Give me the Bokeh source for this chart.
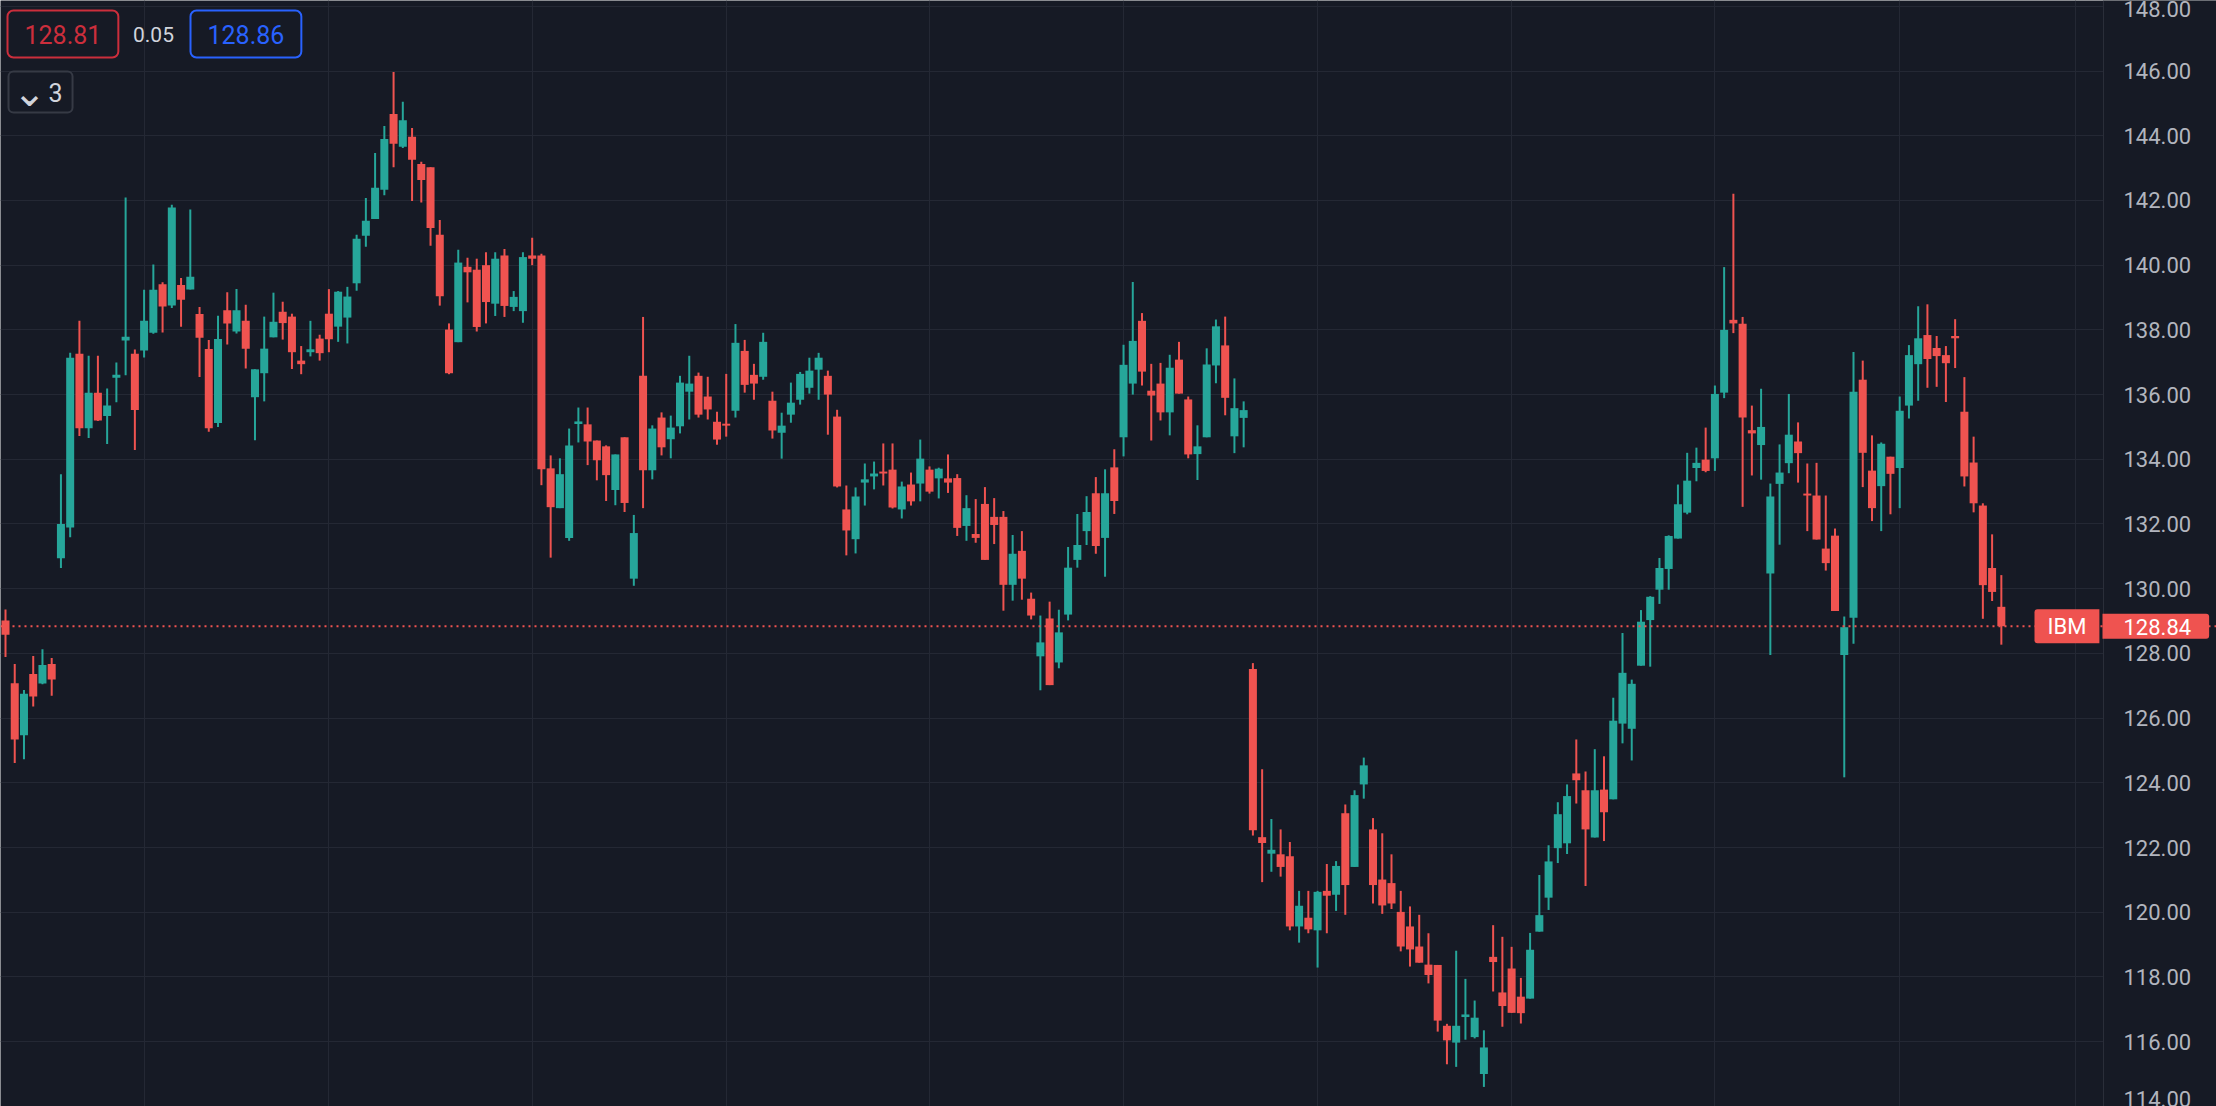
from bokeh.plotting import figure
from bokeh.models import (ColumnDataSource, FixedTicker, Label, Span, BoxAnnotation,
                          PrintfTickFormatter, Range1d)
from bokeh.embed import file_html
from bokeh.resources import INLINE

# ---------------- data (IBM daily candles) ----------------
open_ = [129.02, 127.08, 125.47, 127.36, 127.07, 127.67, 130.94, 131.89, 137.26, 134.96,
         136.06, 135.34, 136.52, 137.67, 137.26, 137.36, 137.91, 139.41, 138.75, 139.39,
         139.25, 138.49, 137.41, 135.12, 138.61, 137.95, 138.28, 135.92, 136.66, 137.77,
         138.56, 138.41, 137.05, 137.31, 137.73, 138.50, 138.10, 138.38, 139.44, 140.91,
         141.43, 142.33, 144.67, 143.66, 143.97, 143.13, 143.03, 140.94, 138.01, 137.62,
         139.95, 139.86, 140.00, 138.81, 140.30, 138.71, 138.58, 140.30, 140.30, 133.72,
         132.49, 131.57, 135.09, 135.08, 134.58, 134.40, 133.05, 134.68, 130.31, 136.58,
         133.66, 135.29, 134.62, 135.02, 136.09, 136.58, 135.94, 135.16, 135.10, 135.50,
         137.35, 136.61, 136.55, 135.81, 134.82, 135.38, 135.84, 136.21, 136.77, 136.58,
         135.32, 132.45, 131.53, 133.28, 133.47, 133.62, 133.68, 132.45, 133.22, 133.25,
         133.68, 133.41, 133.41, 133.42, 131.94, 131.69, 132.62, 132.22, 132.22, 130.12,
         131.17, 129.69, 127.91, 129.08, 127.72, 129.20, 130.89, 131.78, 132.95, 131.57,
         133.75, 134.68, 136.34, 138.28, 136.12, 136.34, 135.45, 137.08, 135.85, 134.16,
         134.68, 136.90, 137.52, 134.71, 135.28, 127.52, 122.32, 121.81, 121.79, 121.73,
         119.56, 119.83, 119.44, 120.66, 120.54, 123.06, 121.40, 123.95, 122.56, 121.01,
         120.90, 120.01, 119.56, 118.94, 118.38, 118.37, 116.49, 115.97, 116.76, 116.14,
         115.00, 118.62, 117.52, 118.26, 117.39, 117.33, 119.40, 120.45, 121.98, 122.13,
         124.29, 123.77, 122.31, 123.79, 123.49, 125.83, 125.67, 127.62, 129.03, 129.97,
         130.61, 131.55, 132.35, 133.73, 133.99, 134.03, 136.06, 138.31, 138.19, 134.90,
         134.44, 130.47, 133.24, 133.88, 134.55, 132.94, 132.88, 131.24, 131.64, 127.95,
         129.10, 136.46, 133.65, 133.17, 134.08, 133.73, 135.66, 136.94, 137.84, 137.44,
         137.22, 137.81, 135.47, 133.90, 132.57, 130.64, 129.44]

high = [129.36, 127.67, 126.87, 127.92, 128.13, 127.86, 133.54, 137.29, 138.28, 137.20,
        137.20, 136.19, 136.99, 142.09, 137.39, 139.24, 140.02, 139.47, 141.87, 139.60,
        141.72, 138.71, 137.69, 138.44, 139.16, 139.26, 138.78, 136.78, 138.41, 139.15,
        138.87, 138.50, 137.50, 138.28, 137.85, 139.26, 139.20, 139.33, 140.94, 142.08,
        143.47, 144.30, 145.97, 145.05, 144.24, 143.20, 143.03, 141.40, 138.20, 140.48,
        140.23, 140.20, 140.40, 140.40, 140.50, 139.20, 140.40, 140.85, 140.35, 134.12,
        134.03, 134.95, 135.60, 135.60, 134.58, 134.43, 134.15, 134.68, 132.28, 138.40,
        135.05, 135.45, 135.35, 136.58, 137.20, 136.68, 136.55, 135.47, 136.64, 138.18,
        137.69, 136.95, 137.91, 136.09, 135.44, 136.37, 136.70, 137.14, 137.29, 136.74,
        135.53, 133.19, 133.13, 133.87, 133.93, 134.49, 134.49, 133.31, 133.59, 134.61,
        133.78, 133.74, 134.15, 133.54, 132.89, 132.77, 133.14, 132.80, 132.40, 131.66,
        131.78, 129.88, 129.17, 129.60, 129.35, 131.29, 132.31, 132.86, 133.45, 133.69,
        134.31, 137.54, 139.48, 138.52, 136.95, 136.98, 137.23, 137.63, 135.94, 135.05,
        137.43, 138.32, 138.41, 136.50, 135.79, 127.70, 124.42, 122.88, 122.56, 122.17,
        120.66, 120.66, 120.66, 121.49, 121.58, 123.33, 123.77, 124.78, 122.91, 122.44,
        121.79, 120.66, 120.18, 119.92, 119.35, 118.37, 116.55, 118.81, 117.94, 117.27,
        116.35, 119.60, 119.24, 118.93, 117.97, 119.36, 121.15, 122.07, 123.40, 123.95,
        125.34, 124.35, 125.04, 124.82, 126.63, 128.63, 127.19, 129.34, 129.77, 130.95,
        131.65, 133.22, 134.20, 134.36, 134.98, 136.28, 139.94, 142.21, 138.40, 135.66,
        136.18, 133.25, 134.46, 136.02, 135.14, 133.87, 133.89, 132.88, 131.86, 129.14,
        137.32, 137.05, 134.74, 134.52, 134.08, 135.94, 137.53, 138.73, 138.79, 137.81,
        137.50, 138.33, 136.54, 134.70, 132.64, 131.68, 130.42]

low = [127.89, 124.61, 124.73, 126.36, 127.05, 126.69, 130.64, 131.59, 134.72, 134.66,
       135.18, 134.47, 135.76, 136.60, 134.29, 137.15, 137.88, 137.92, 138.68, 138.10,
       139.25, 136.54, 134.85, 135.00, 137.55, 137.89, 136.81, 134.59, 135.79, 137.77,
       137.70, 136.79, 136.63, 137.18, 137.05, 137.31, 137.63, 137.58, 139.21, 140.57,
       141.43, 142.16, 143.03, 143.62, 141.98, 141.94, 140.60, 138.75, 136.63, 137.62,
       138.85, 137.95, 138.20, 138.43, 138.40, 138.58, 138.22, 140.00, 133.20, 130.96,
       132.49, 131.48, 134.52, 133.82, 133.35, 132.71, 132.58, 132.37, 130.09, 132.49,
       133.38, 134.12, 134.03, 134.80, 135.23, 135.29, 135.23, 134.45, 134.70, 135.29,
       136.06, 135.84, 136.46, 134.64, 134.02, 135.13, 135.69, 136.03, 135.84, 134.76,
       133.13, 131.03, 131.09, 132.57, 133.07, 133.19, 132.48, 132.17, 132.57, 132.70,
       132.94, 132.79, 132.96, 131.63, 131.48, 131.42, 130.89, 131.38, 129.32, 129.63,
       129.66, 129.05, 126.86, 127.02, 127.54, 129.02, 130.65, 131.35, 131.08, 130.37,
       132.31, 134.09, 136.00, 136.28, 134.58, 135.20, 134.74, 136.03, 134.03, 133.36,
       134.68, 136.35, 135.36, 134.19, 134.37, 122.37, 120.93, 121.25, 121.10, 119.44,
       119.06, 119.35, 118.29, 119.35, 120.04, 119.92, 121.40, 123.51, 120.27, 119.95,
       120.10, 118.79, 118.32, 118.44, 117.80, 116.31, 115.30, 115.22, 116.06, 116.10,
       114.60, 117.55, 116.46, 116.89, 116.56, 117.33, 119.40, 120.07, 121.52, 121.80,
       123.36, 120.81, 122.31, 122.20, 123.49, 125.22, 124.69, 127.62, 127.59, 129.53,
       129.97, 131.55, 132.30, 133.32, 133.60, 133.64, 135.89, 137.90, 132.53, 133.50,
       133.37, 127.95, 131.36, 133.57, 133.28, 131.78, 131.52, 130.56, 129.31, 124.17,
       128.30, 133.14, 132.09, 131.78, 132.30, 132.49, 135.26, 135.81, 136.21, 136.24,
       135.77, 136.82, 133.16, 132.36, 129.07, 129.62, 128.27]

close = [128.58, 125.34, 126.75, 126.67, 127.64, 127.19, 132.00, 137.14, 134.96, 136.06,
         135.20, 135.66, 136.61, 137.79, 135.52, 138.28, 139.24, 138.72, 141.78, 138.93,
         139.64, 137.76, 134.96, 137.72, 138.20, 138.61, 137.42, 136.78, 137.42, 138.25,
         138.21, 137.31, 136.94, 137.40, 137.28, 137.71, 139.18, 139.03, 140.82, 141.37,
         142.39, 143.90, 143.75, 144.48, 143.26, 142.63, 141.15, 139.04, 136.66, 140.08,
         139.78, 138.09, 138.86, 140.20, 138.74, 139.02, 140.25, 140.20, 133.69, 132.52,
         133.54, 134.43, 135.17, 134.55, 133.97, 133.51, 134.15, 132.65, 131.72, 133.66,
         134.95, 134.37, 134.98, 136.37, 136.34, 135.38, 135.54, 134.61, 135.04, 137.60,
         136.30, 136.34, 137.63, 134.89, 135.04, 135.75, 136.64, 136.74, 137.14, 136.00,
         133.16, 131.80, 132.85, 133.38, 133.56, 133.56, 132.51, 133.16, 132.70, 134.02,
         133.00, 133.71, 133.28, 131.88, 132.49, 131.57, 130.89, 131.97, 130.12, 131.08,
         130.31, 129.17, 128.34, 127.02, 128.65, 130.65, 131.35, 132.37, 131.32, 132.95,
         132.71, 136.92, 137.66, 136.71, 135.97, 135.45, 136.83, 136.03, 134.15, 134.40,
         136.93, 138.11, 135.90, 135.58, 135.52, 122.53, 122.14, 121.93, 121.40, 119.56,
         120.20, 119.47, 120.63, 120.51, 121.43, 120.84, 123.62, 124.54, 120.84, 120.21,
         120.27, 118.94, 118.85, 118.44, 118.06, 116.65, 116.04, 116.49, 116.84, 116.74,
         115.82, 118.46, 117.10, 116.89, 116.88, 118.84, 119.91, 121.57, 123.03, 123.59,
         124.08, 122.56, 123.77, 123.09, 125.92, 127.40, 127.06, 128.98, 129.75, 130.64,
         131.63, 132.61, 133.34, 133.89, 133.64, 136.02, 138.00, 138.20, 135.29, 134.80,
         135.00, 132.85, 133.59, 134.76, 134.19, 132.88, 131.52, 130.79, 129.31, 128.81,
         136.09, 134.20, 132.49, 134.48, 133.55, 135.50, 137.22, 137.74, 137.10, 137.19,
         136.97, 137.74, 133.47, 132.64, 130.11, 129.90, 128.84]

price_ticks = [114, 116, 118, 120, 122, 124, 126, 128, 130, 132, 134, 136, 138, 140, 142, 144, 146, 148]
month_starts = [15, 35, 57, 78, 100, 121, 142, 163, 185, 205, 224]   # bar index of first session of each month

symbol = "IBM"
last_price = close[-1]
bid_text = "128.81"
spread_text = "0.05"
ask_text = "128.86"
series_count = "3"

# ---------------- layout / styles ----------------
BG = "#161A25"
GRID = "#242834"
UP = "#26A69A"
DOWN = "#EF5350"
AXIS_TEXT = "#B2B5BE"
FONT = "Roboto"

W, H = 2216, 1106
PLOT_W = 2103                       # width of the candle pane; price scale to its right
BAR_PX = 9.24                       # pixels per bar
FIRST_BAR_PX = 5                    # centre of bar 0
X_START = -FIRST_BAR_PX / BAR_PX
X_AXIS = (PLOT_W - FIRST_BAR_PX) / BAR_PX
X_END = (W - FIRST_BAR_PX) / BAR_PX

idx = list(range(len(close)))
colors = [UP if c >= o else DOWN for o, c in zip(open_, close)]
src = ColumnDataSource(dict(
    x=idx, high=high, low=low,
    top=[max(o, c) for o, c in zip(open_, close)],
    bottom=[min(o, c) for o, c in zip(open_, close)],
    color=colors,
))

p = figure(width=W, height=H,
           x_range=Range1d(X_START, X_END), y_range=Range1d(113.995, 148.181),
           output_backend="svg", toolbar_location=None,
           x_axis_location=None, y_axis_location="right",
           min_border_left=0, min_border_right=0, min_border_top=0, min_border_bottom=0,
           background_fill_color=BG, border_fill_color=BG, outline_line_color=None)

# grid
p.ygrid.grid_line_color = GRID
p.ygrid.grid_line_width = 1
p.xgrid.ticker = FixedTicker(ticks=month_starts)
p.xgrid.grid_line_color = GRID
p.xgrid.grid_line_width = 1
# price-scale background hides grid lines to the right of the pane
p.add_layout(BoxAnnotation(left=X_AXIS, right=X_END, fill_color=BG, fill_alpha=1.0,
                           line_color=None, level="underlay"))

# price axis, drawn at the pane's right edge
ax = p.yaxis[0]
ax.fixed_location = X_AXIS
ax.ticker = FixedTicker(ticks=price_ticks)
ax.formatter = PrintfTickFormatter(format="%.2f")
ax.major_label_text_font = FONT
ax.major_label_text_font_size = "22px"
ax.major_label_text_color = AXIS_TEXT
ax.major_label_standoff = 20
ax.major_tick_out = 0
ax.major_tick_in = 0
ax.minor_tick_out = 0
ax.minor_tick_in = 0
ax.axis_line_color = "#2A2E39"
ax.axis_line_width = 1

# candles
p.segment(x0="x", y0="high", x1="x", y1="low", source=src, line_color="color", line_width=2)
p.vbar(x="x", width=0.866, top="top", bottom="bottom", source=src,
       fill_color="color", line_color=None)

# last price line (dotted)
p.add_layout(Span(location=last_price, dimension="width", line_color=DOWN,
                  line_dash="2 4", line_width=2))

# symbol + last price tags
p.add_layout(Label(x=PLOT_W - 69, y=last_price, x_units="screen", y_units="data",
                   text=symbol, anchor="center_left",
                   text_font=FONT, text_font_size="22px", text_color="#FFFFFF",
                   background_fill_color=DOWN, border_line_color=None,
                   padding=dict(left=13, right=13, top=5, bottom=4),
                   border_radius=dict(top_left=3, top_right=0, bottom_right=0, bottom_left=3)))
p.add_layout(Label(x=PLOT_W - 1, y=last_price, x_units="screen", y_units="data",
                   text="%.2f" % last_price, anchor="center_left",
                   text_font=FONT, text_font_size="22px", text_color="#FFFFFF",
                   background_fill_color=DOWN, border_line_color=None,
                   padding=dict(left=21, right=18, top=5, bottom=4),
                   border_radius=dict(top_left=0, top_right=3, bottom_right=3, bottom_left=0)))

# top-left quote widgets
p.add_layout(Label(x=7, y=H - 10, x_units="screen", y_units="screen",
                   text=bid_text, anchor="top_left",
                   text_font=FONT, text_font_size="25px", text_color="#CC2E3C",
                   background_fill_color=BG, border_line_color="#CC2E3C", border_line_width=2,
                   padding=dict(left=17, right=17, top=14, bottom=14), border_radius=6))
p.add_layout(Label(x=153, y=H - 33.5, x_units="screen", y_units="screen",
                   text=spread_text, anchor="center",
                   text_font=FONT, text_font_size="21px", text_color="#D1D4DC"))
p.add_layout(Label(x=190, y=H - 10, x_units="screen", y_units="screen",
                   text=ask_text, anchor="top_left",
                   text_font=FONT, text_font_size="25px", text_color="#2962FF",
                   background_fill_color=BG, border_line_color="#2962FF", border_line_width=2,
                   padding=dict(left=17, right=17, top=14, bottom=14), border_radius=6))
p.add_layout(Label(x=8, y=H - 71, x_units="screen", y_units="screen",
                   text=series_count, anchor="top_left",
                   text_font=FONT, text_font_size="25px", text_color="#D1D4DC",
                   background_fill_color=BG, border_line_color="#363A45", border_line_width=2,
                   padding=dict(left=40, right=10, top=11, bottom=11), border_radius=5))
p.add_layout(Label(x=29, y=H - 91, x_units="screen", y_units="screen",
                   text="\u2304", anchor="center",
                   text_font="DejaVu Sans", text_font_size="40px", text_color="#D1D4DC"))

html = file_html(p, INLINE, title="IBM")
html = html.replace("<body>", '<body style="background-color:%s;">' % BG, 1)
open("out.html", "w").write(html)
